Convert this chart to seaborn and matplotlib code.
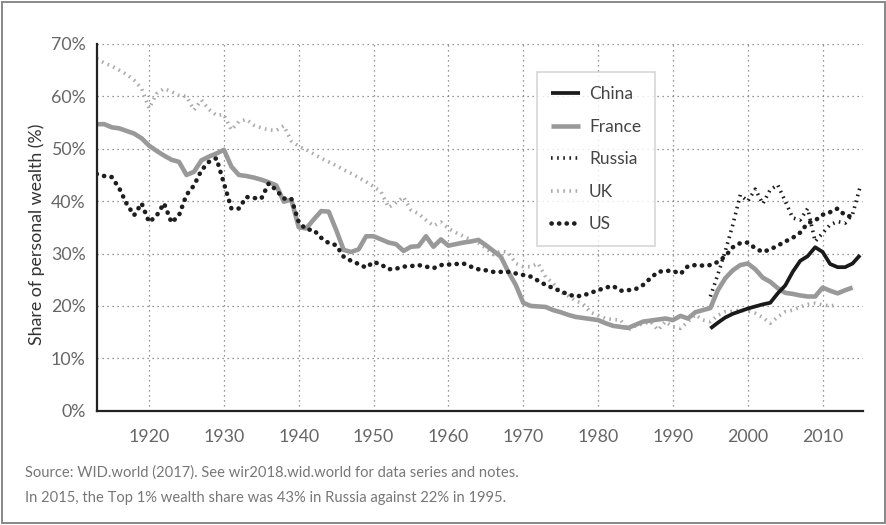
import matplotlib
matplotlib.use("Agg")
import matplotlib.pyplot as plt
import seaborn as sns
import numpy as np
import pandas as pd
from matplotlib.patches import Rectangle

# ---------------- data ----------------
france_years = list(range(1913, 2015))
france = [54.7, 54.7, 54.1, 53.9, 53.4, 52.9, 52.0, 50.6, 49.6, 48.7,
          47.9, 47.5, 45.0, 45.6, 47.8, 48.5, 49.1, 49.8, 46.6, 45.0,
          44.8, 44.5, 44.1, 43.6, 43.0, 39.9, 40.3, 35.0, 34.8, 36.5,
          38.1, 38.0, 34.5, 30.7, 30.3, 30.8, 33.3, 33.3, 32.7, 32.1,
          31.8, 30.5, 31.3, 31.4, 33.3, 31.3, 32.7, 31.5, 31.8, 32.1,
          32.3, 32.6, 31.6, 30.5, 29.4, 26.5, 24.0, 20.6, 20.0, 19.9,
          19.8, 19.2, 18.8, 18.3, 17.9, 17.7, 17.5, 17.3, 16.7, 16.2,
          16.0, 15.8, 16.4, 17.0, 17.2, 17.4, 17.6, 17.3, 18.1, 17.6,
          18.8, 19.2, 19.6, 23.0, 25.3, 26.8, 27.8, 28.1, 27.0, 25.4,
          24.6, 23.4, 22.5, 22.3, 22.0, 21.8, 21.8, 23.5, 22.9, 22.4,
          23.0, 23.5]

us_years = list(range(1913, 2015))
us = [45.2, 44.8, 44.6, 42.5, 39.5, 37.3, 39.6, 36.0, 37.2, 39.6,
      35.9, 37.3, 41.2, 43.0, 45.9, 47.5, 48.2, 43.4, 38.6, 38.6,
      40.8, 40.6, 40.5, 43.4, 42.1, 40.5, 40.5, 36.0, 34.6, 34.5,
      33.0, 32.0, 31.6, 29.4, 28.6, 28.0, 27.3, 28.4, 27.9, 27.0,
      27.1, 27.5, 27.6, 27.8, 27.5, 27.2, 27.8, 27.9, 28.0, 28.1,
      27.5, 27.0, 26.8, 26.5, 26.5, 26.5, 26.2, 25.9, 25.6, 24.8,
      24.0, 23.4, 22.8, 22.2, 21.8, 22.0, 22.5, 23.0, 23.5, 23.8,
      22.9, 23.0, 23.2, 24.0, 25.3, 26.5, 26.7, 26.7, 26.1, 27.6,
      27.8, 27.7, 27.8, 28.4, 29.5, 31.2, 32.0, 32.1, 31.0, 30.3,
      30.8, 31.5, 32.3, 33.0, 34.0, 35.8, 36.3, 37.4, 37.9, 38.6,
      37.3, 37.0]

uk_years = list(range(1913, 2013))
uk = [67.2, 66.4, 65.8, 65.0, 64.2, 63.1, 61.5, 57.7, 60.5, 61.5,
      60.9, 60.2, 60.0, 57.4, 59.3, 57.5, 56.4, 56.5, 53.6, 55.2,
      55.6, 54.5, 54.0, 53.6, 53.5, 54.4, 51.5, 50.5, 49.8, 49.0,
      48.2, 47.5, 46.8, 46.0, 45.3, 44.5, 43.7, 42.8, 41.8, 38.8,
      39.7, 40.8, 38.3, 37.6, 36.4, 35.3, 36.0, 34.8, 34.0, 33.3,
      32.6, 32.0, 31.0, 29.8, 30.5, 30.2, 28.1, 27.5, 27.5, 28.1,
      25.5, 24.3, 22.6, 21.9, 21.0, 20.4, 18.8, 18.2, 17.6, 17.4,
      17.3, 15.4, 16.2, 16.6, 17.0, 15.4, 17.0, 16.0, 15.7, 17.0,
      18.3, 17.3, 17.0, 18.2, 18.9, 19.0, 19.2, 19.0, 18.6, 17.8,
      16.7, 17.9, 18.9, 19.2, 19.8, 20.3, 20.5, 20.2, 20.0, 20.2]

russia_years = list(range(1995, 2016))
russia = [21.8, 26.0, 30.5, 35.5, 41.2, 40.0, 42.3, 39.5, 42.2, 43.1,
          40.0, 36.8, 36.4, 38.6, 32.3, 33.9, 35.5, 36.1, 35.8, 37.5,
          42.7]

china_years = list(range(1995, 2016))
china = [15.7, 16.8, 17.8, 18.5, 19.0, 19.5, 19.9, 20.3, 20.6, 22.4,
         23.9, 26.5, 28.6, 29.5, 31.2, 30.3, 28.0, 27.4, 27.4, 28.1,
         29.7]

xtick_years = [1920, 1930, 1940, 1950, 1960, 1970, 1980, 1990, 2000, 2010]
ytick_values = [0, 10, 20, 30, 40, 50, 60, 70]
ytick_labels = ["0%", "10%", "20%", "30%", "40%", "50%", "60%", "70%"]
legend_order = ["China", "France", "Russia", "UK", "US"]

# ---------------- style ----------------
sns.set_style("white")
plt.rcParams["font.family"] = ["Lato", "DejaVu Sans"]

fig = plt.figure(figsize=(8.87, 5.25), dpi=100)
ax = fig.add_axes([0.109, 0.2177, 0.864, 0.6985])

styles = {
    "UK": dict(color="#ababab", linewidth=2.6, linestyle=(0, (0.45, 1.25)),
               dash_capstyle="butt", zorder=2),
    "France": dict(color="#999999", linewidth=3.3, linestyle="-",
                   solid_capstyle="butt", zorder=3),
    "Russia": dict(color="#1e1e1e", linewidth=2.6, linestyle=(0, (0.45, 1.25)),
                   dash_capstyle="butt", zorder=4),
    "US": dict(color="#1e1e1e", linewidth=3.3, linestyle=(0, (0.05, 1.6)),
               dash_capstyle="round", zorder=5),
    "China": dict(color="#1a1a1a", linewidth=2.7, linestyle="-",
                  solid_capstyle="butt", zorder=6),
}
series = {
    "UK": (uk_years, uk),
    "France": (france_years, france),
    "Russia": (russia_years, russia),
    "US": (us_years, us),
    "China": (china_years, china),
}

handles = {}
for name in ["UK", "France", "Russia", "US", "China"]:
    yrs, vals = series[name]
    df = pd.DataFrame({"year": yrs, "share": vals})
    n_before = len(ax.get_lines())
    sns.lineplot(data=df, x="year", y="share", ax=ax, label=name,
                 legend=False, **styles[name])
    handles[name] = ax.get_lines()[n_before]

ax.set_xlim(1913, 2015.4)
ax.set_ylim(0, 70)
ax.set_xticks(xtick_years)
ax.set_xticklabels([str(y) for y in xtick_years])
ax.set_yticks(ytick_values)
ax.set_yticklabels(ytick_labels)
ax.set_xlabel("")
ax.set_ylabel("Share of personal wealth (%)", fontsize=12.8, color="#333333")
ax.yaxis.set_label_coords(-0.068, 0.482)

ax.grid(True, linestyle=(0, (1, 3)), color="#777777", linewidth=0.9)
ax.set_axisbelow(True)

for s in ["top", "right"]:
    ax.spines[s].set_visible(False)
for s in ["left", "bottom"]:
    ax.spines[s].set_color("#222222")
    ax.spines[s].set_linewidth(1.6)
    ax.spines[s].set_zorder(7)

ax.tick_params(axis="both", which="major", direction="out", length=5,
               width=1.6, color="#222222", labelsize=12.8,
               labelcolor="#666666", pad=3)
ax.tick_params(axis="x", pad=8)

leg = ax.legend([handles[n] for n in legend_order], legend_order,
                loc="upper left", bbox_to_anchor=(0.5746, 0.923),
                frameon=True, fancybox=False, fontsize=12.5,
                handlelength=1.7, handletextpad=0.5, labelspacing=0.95,
                borderpad=0.8, borderaxespad=0.0)
leg.get_frame().set_edgecolor("#cccccc")
leg.get_frame().set_linewidth(1.2)
for t in leg.get_texts():
    t.set_color("#444444")

fig.text(0.028, 0.100, "Source: WID.world (2017). See wir2018.wid.world for data series and notes.",
         fontsize=10.6, color="#777777", va="center", ha="left")
fig.text(0.028, 0.051, "In 2015, the Top 1% wealth share was 43% in Russia against 22% in 1995.",
         fontsize=10.6, color="#777777", va="center", ha="left")

fig.patches.append(Rectangle((0.002, 0.003), 0.996, 0.994, transform=fig.transFigure,
                             fill=False, edgecolor="#888888", linewidth=1.4))

fig.savefig("out.png", dpi=100)
